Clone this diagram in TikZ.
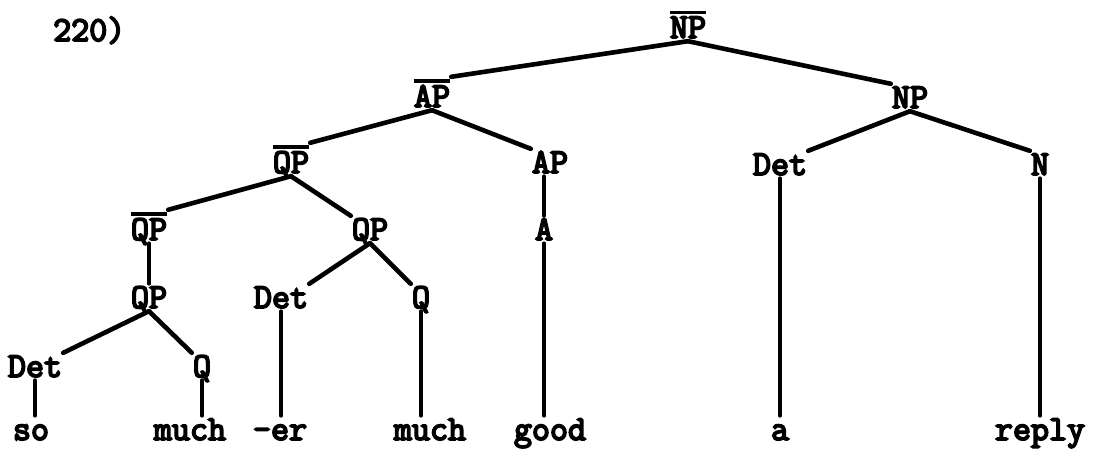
\documentclass[tikz,border=0pt]{standalone}
\usepackage{fontspec}
\newfontfamily\treefont{Latin Modern Mono}[FakeBold=5]
\tikzset{
  cat/.style    = {font=\treefont\fontsize{35}{38}\selectfont, anchor=base,
                   inner xsep=1pt, inner ysep=3pt, text height=21pt, text depth=0pt},
  barcat/.style = {cat, text height=27pt},
  leaf/.style   = {cat},
  tag/.style    = {font=\treefont\fontsize{35}{38}\selectfont, anchor=base west, inner sep=0pt},
  branch/.style = {line width=4.6pt, line cap=round},
  stem/.style   = {line width=3.6pt, line cap=round},
}
\newcommand{\xbar}[1]{\vbox{\hrule height 3.6pt\kern 2.4pt\hbox{#1}}}

\begin{document}
\begin{tikzpicture}[x=1pt, y=1pt]
\useasboundingbox (0,0) rectangle (1093,448);

\node[tag] (num) at (53,407) {220)};

% categories
\node[barcat] (npbar)  at (688,410) {\xbar{NP}};
\node[barcat] (apbar)  at (432,341) {\xbar{AP}};
\node[cat]    (np)     at (910,340) {NP};
\node[barcat] (qpbar)  at (291,275) {\xbar{QP}};
\node[cat]    (ap)     at (550,275) {AP};
\node[cat]    (detn)   at (780,273) {Det};
\node[cat]    (n)      at (1040,273) {N};
\node[barcat] (qpbarb) at (149,208) {\xbar{QP}};
\node[cat]    (qp)     at (370,208) {QP};
\node[cat]    (a)      at (544,208) {A};
\node[cat]    (qpc)    at (149,140) {QP};
\node[cat]    (detq)   at (281,140) {Det};
\node[cat]    (q)      at (421,140) {Q};
\node[cat]    (detc)   at (35,71)   {Det};
\node[cat]    (qc)     at (202,71)  {Q};

% words
\node[leaf] (so)    at (31,8)   {so};
\node[leaf] (much)  at (190,8)  {much};
\node[leaf] (er)    at (280,8)  {-er};
\node[leaf] (mucha) at (430,8)  {much};
\node[leaf] (good)  at (550,8)  {good};
\node[leaf] (wa)    at (780,8)  {a};
\node[leaf] (reply) at (1040,8) {reply};

\draw[branch] (npbar.south) -- (apbar.north east);
\draw[branch] (npbar.south) -- (np.north west);
\draw[branch] (apbar.south) -- (qpbar.north east);
\draw[branch] (apbar.south) -- (ap.north west);
\draw[branch] (np.south) -- (detn.north east);
\draw[branch] (np.south) -- (n.north west);
\draw[branch] (qpbar.south) -- (qpbarb.north east);
\draw[branch] (qpbar.south) -- (qp.north west);
\draw[branch] (qp.south) -- (detq.north east);
\draw[branch] (qp.south) -- (q.north west);
\draw[branch] (qpc.south) -- (detc.north east);
\draw[branch] (qpc.south) -- (qc.north west);

\draw[stem] (a.north |- ap.south) -- (a.north);
\draw[stem] (qpbarb.south) -- (qpc.north);
\draw[stem] (a.south) -- (a.south |- good.north);
\draw[stem] (detn.south) -- (detn.south |- wa.north);
\draw[stem] (n.south) -- (n.south |- reply.north);
\draw[stem] (detq.south) -- (detq.south |- er.north);
\draw[stem] (q.south) -- (q.south |- mucha.north);
\draw[stem] (detc.south) -- (detc.south |- so.north);
\draw[stem] (qc.south) -- (qc.south |- much.north);
\end{tikzpicture}
\end{document}
